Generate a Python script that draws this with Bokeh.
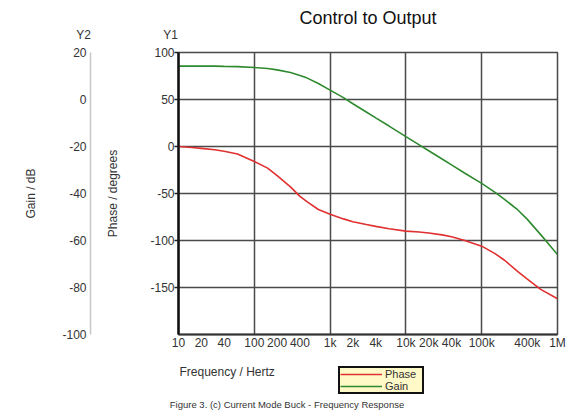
from bokeh.plotting import figure
from bokeh.layouts import column
from bokeh.models import (Range1d, LinearAxis, FixedTicker, Legend, LegendItem, Title, Label)
from bokeh.embed import file_html
from bokeh.resources import INLINE

# ---- data ----
freq = [10, 15, 20, 30, 40, 60, 100, 150, 200, 300, 400, 500, 700,
        1e3, 1.5e3, 2e3, 3e3, 4e3, 6e3, 1e4, 1.5e4, 2e4, 3e4, 4e4, 6e4,
        1e5, 1.5e5, 2e5, 3e5, 4e5, 6e5, 1e6]
phase_deg = [0, -1, -2, -3.5, -5, -8, -16, -23, -31, -43, -53, -59, -67,
             -72, -77, -80, -83, -85, -87.5, -90, -91, -92, -94, -96, -100,
             -106, -114, -121, -133, -141, -152, -162]
gain_db = [14.2, 14.2, 14.2, 14.2, 14.1, 14.0, 13.6, 13.2, 12.6, 11.5, 10.2, 9.1, 6.8,
           4.0, 0.8, -1.8, -5.3, -7.8, -11.3, -15.8, -19.3, -21.8, -25.3, -27.8, -31.4,
           -35.7, -39.5, -42.5, -47.0, -51.0, -57.5, -66.0]

x_ticks = [10, 20, 40, 100, 200, 400, 1e3, 2e3, 4e3, 1e4, 2e4, 4e4, 1e5, 4e5, 1e6]
x_tick_labels = ["10", "20", "40", "100", "200", "400", "1k", "2k", "4k",
                 "10k", "20k", "40k", "100k", "400k", "1M"]
x_grid = [10, 100, 1e3, 1e4, 1e5, 1e6]
y1_ticks = [-150, -100, -50, 0, 50, 100]
y1_tick_labels = ["-150", "-100", "-50", "0", "50", "100"]
y2_ticks = [-100, -80, -60, -40, -20, 0, 20]
y2_tick_labels = ["-100", "-80", "-60", "-40", "-20", "0", "20"]

X_MIN, X_MAX = 10, 1e6
Y1_MIN, Y1_MAX = -200, 100
Y2_MIN, Y2_MAX = -100, 20

FONT = "Liberation Sans"
TXT = "#333333"
W = 568
H_TOP, H_MID, H_BOT = 44, 308, 61


def no_align(f):
    try:
        f.frame_align = False
    except Exception:
        pass


def blank(height):
    f = figure(width=W, height=height, x_range=Range1d(0, 1), y_range=Range1d(0, 1),
               x_axis_location=None, y_axis_location=None, toolbar_location=None,
               output_backend="svg", min_border=0, outline_line_color=None,
               background_fill_color="white", border_fill_color="white")
    f.title_location = None
    f.grid.visible = False
    no_align(f)
    return f


def lab(f, text, x, y, size, align="center", color=TXT):
    f.add_layout(Label(x=x, y=y, x_units="screen", y_units="screen", text=text,
                       text_font=FONT, text_font_size=size, text_color=color,
                       text_align=align, text_baseline="middle"))


# ---- top strip: title and axis headers ----
top = blank(H_TOP)
lab(top, "Control to Output", 367.5, 26.5, "18px", color="#111111")
lab(top, "Y2", 83, 10, "12px")
lab(top, "Y1", 170, 10, "12px")

# ---- chart ----
p = figure(width=W, height=H_MID, x_axis_type="log",
           x_range=Range1d(X_MIN, X_MAX), y_range=Range1d(Y1_MIN, Y1_MAX),
           output_backend="svg", toolbar_location=None,
           min_border_left=178, min_border_right=11, min_border_top=8, min_border_bottom=17,
           background_fill_color="white", border_fill_color="white")
p.title_location = None
no_align(p)
p.extra_y_ranges = {"gain": Range1d(Y2_MIN, Y2_MAX)}
p.outline_line_color = "#4a4a4a"
p.outline_line_width = 1.5

xa = p.xaxis[0]
xa.ticker = FixedTicker(ticks=x_ticks)
xa.major_label_overrides = {t: l for t, l in zip(x_ticks, x_tick_labels)}
xa.major_tick_out = 0
xa.major_tick_in = 0
xa.minor_tick_out = 0
xa.minor_tick_in = 0
xa.major_label_standoff = 1
xa.axis_line_color = "#333333"
xa.axis_line_width = 2
xa.major_label_text_font = FONT
xa.major_label_text_font_size = "12px"
xa.major_label_text_color = TXT

ya = p.yaxis[0]
ya.ticker = FixedTicker(ticks=y1_ticks)
ya.major_label_overrides = {t: l for t, l in zip(y1_ticks, y1_tick_labels)}
ya.major_tick_out = 4
ya.major_tick_in = 0
ya.minor_tick_out = 0
ya.minor_tick_in = 0
ya.major_tick_line_color = "#222222"
ya.major_tick_line_width = 1.5
ya.major_label_standoff = 0
ya.axis_line_color = "#111111"
ya.axis_line_width = 2.5
ya.major_label_text_font = FONT
ya.major_label_text_font_size = "12px"
ya.major_label_text_color = TXT
ya.axis_label = "Phase / degrees"
ya.axis_label_text_font = FONT
ya.axis_label_text_font_size = "12px"
ya.axis_label_text_font_style = "normal"
ya.axis_label_text_color = TXT
ya.axis_label_standoff = 27

y2 = LinearAxis(y_range_name="gain", ticker=FixedTicker(ticks=y2_ticks))
y2.major_label_overrides = {t: l for t, l in zip(y2_ticks, y2_tick_labels)}
y2.major_tick_out = 0
y2.major_tick_in = 0
y2.minor_tick_out = 0
y2.minor_tick_in = 0
y2.major_label_standoff = 4
y2.axis_line_color = "#c8c8c8"
y2.axis_line_width = 1.5
y2.major_label_text_font = FONT
y2.major_label_text_font_size = "12px"
y2.major_label_text_color = TXT
y2.axis_label = "Gain / dB"
y2.axis_label_text_font = FONT
y2.axis_label_text_font_size = "12px"
y2.axis_label_text_font_style = "normal"
y2.axis_label_text_color = TXT
y2.axis_label_standoff = 21

left_spacer = Title(text=" ", text_font_size="1px", standoff=10)
p.left = [ya, left_spacer, y2]

p.xgrid.ticker = FixedTicker(ticks=x_grid)
p.ygrid.ticker = FixedTicker(ticks=y1_ticks)
for g in (p.xgrid[0], p.ygrid[0]):
    g.grid_line_color = "#4a4a4a"
    g.grid_line_width = 1.5

PHASE_COLOR, GAIN_COLOR = "#e03030", "#2f8a2f"
p.line(freq, phase_deg, line_color=PHASE_COLOR, line_width=1.6)
p.line(freq, gain_db, line_color=GAIN_COLOR, line_width=1.6, y_range_name="gain")

# ---- bottom strip: axis title, legend, caption ----
bot = blank(H_BOT)
# key renderers for the legend (same series, lying outside this strip's view)
k_phase = bot.line(freq, phase_deg, line_color=PHASE_COLOR, line_width=1.6)
k_gain = bot.line(freq, gain_db, line_color=GAIN_COLOR, line_width=1.6)
legend = Legend(items=[LegendItem(label="Phase", renderers=[k_phase]),
                       LegendItem(label="Gain", renderers=[k_gain])],
                location=(338, 19), orientation="vertical",
                background_fill_color="#fff9c8", background_fill_alpha=1.0,
                border_line_color="#111111", border_line_width=2, border_line_alpha=1.0,
                padding=0, spacing=0, margin=0,
                glyph_width=42, glyph_height=12, label_height=12, label_width=37,
                label_standoff=3, label_text_font=FONT, label_text_font_size="11px",
                label_text_color=TXT)
bot.add_layout(legend, "center")
lab(bot, "Frequency / Hertz", 179, 42, "12px", align="left")
lab(bot, "Figure 3. (c) Current Mode Buck - Frequency Response", 286.5, 9, "9.5px")

page = column(top, p, bot, spacing=0)
open("out.html", "w").write(file_html(page, INLINE))
